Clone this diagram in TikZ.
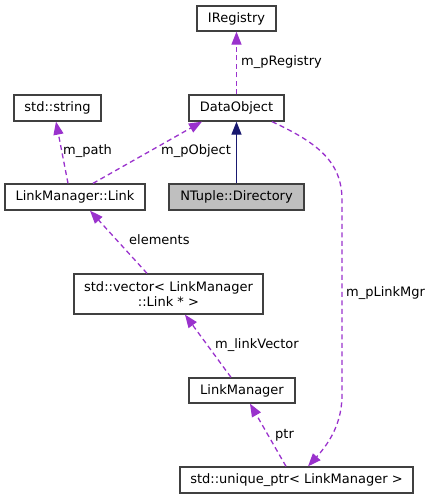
\documentclass[tikz,border=0pt]{standalone}
\usepackage{fontspec}
\setmainfont{DejaVu Sans}
\usetikzlibrary{arrows.meta}
\definecolor{edgepurple}{HTML}{9A32CD}
\definecolor{edgenavy}{HTML}{191970}
\definecolor{boxborder}{HTML}{404040}
\definecolor{boxgray}{HTML}{BFBFBF}
\tikzset{
  cls/.style={draw=boxborder, line width=1.3pt, fill=white, inner sep=0pt, anchor=center,
    font=\fontsize{13}{15}\selectfont, align=center},
  usage/.style={draw=edgepurple, line width=1.3pt, dash pattern=on 5pt off 3.5pt,
    -{Triangle[length=13pt,width=10pt,fill=edgepurple]}},
  inherit/.style={draw=edgenavy, line width=1.3pt,
    -{Triangle[length=13pt,width=10pt,fill=edgenavy]}},
  lbl/.style={anchor=west, inner sep=0pt, font=\fontsize{13}{15}\selectfont}
}
\begin{document}
\begin{tikzpicture}[x=1pt,y=-1pt]
\useasboundingbox (0,0) rectangle (431,499);
\node[cls, minimum width=79pt, minimum height=25pt] (reg) at (236.5,18.5) {IRegistry};
\node[cls, minimum width=95pt, minimum height=26pt] (dobj) at (236.5,108) {DataObject};
\node[cls, minimum width=87pt, minimum height=26pt] (str) at (57.5,108) {std::string};
\node[cls, minimum width=140pt, minimum height=26pt] (link) at (75,197) {LinkManager::Link};
\node[cls, minimum width=135pt, minimum height=26pt, fill=boxgray] (dir) at (236.5,197) {NTuple::Directory};
\node[cls, minimum width=189pt, minimum height=40pt] (vec) at (168.5,294) {std::vector< LinkManager\\::Link * >};
\node[cls, minimum width=106pt, minimum height=25pt] (lm) at (242,390.5) {LinkManager};
\node[cls, minimum width=233pt, minimum height=26pt] (up) at (296.5,480) {std::unique\_ptr< LinkManager >};

\draw[usage] (dobj.north) -- (reg.south);
\node[lbl] (lreg) at (241,62) {m\_pRegistry};

\draw[usage] ([xshift=-7pt]link.north) -- ([xshift=-1.5pt]str.south);
\node[lbl] (lpath) at (63,151) {m\_path};

\draw[usage] ([xshift=18pt]link.north) -- ([xshift=-34.5pt]dobj.south);
\node[lbl] (lobj) at (161,151) {m\_pObject};

\draw[inherit] (dir.north) -- (dobj.south);

\draw[usage] ([xshift=-21.5pt]vec.north) -- ([xshift=15pt]link.south);
\node[lbl] (lel) at (129,240) {elements};

\draw[usage] ([xshift=-11pt]lm.north) -- ([xshift=16.5pt]vec.south);
\node[lbl] (llv) at (215,345) {m\_linkVector};

\draw[usage] ([xshift=-10.5pt]up.north) -- ([xshift=8pt]lm.south);
\node[lbl] (lptr) at (275,435) {ptr};

\coordinate (c1) at (342,200);
\coordinate (c2) at (342,395);
\draw[usage] ([xshift=35.5pt]dobj.south) .. controls (318,143) and (342,162) .. (c1) -- (c2) .. controls (342,420) and (332,440) .. ([xshift=11.5pt]up.north);
\node[lbl] (lmgr) at (346,293) {m\_pLinkMgr};
\end{tikzpicture}
\end{document}
